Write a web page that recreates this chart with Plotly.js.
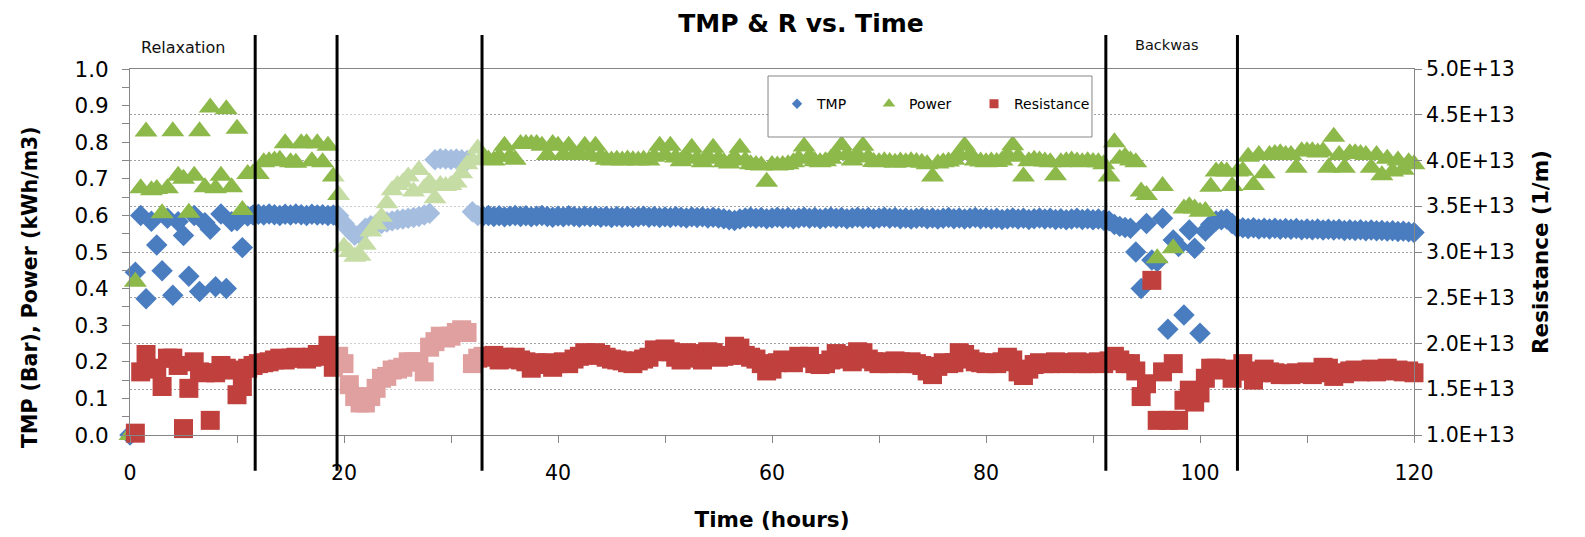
<!DOCTYPE html>
<html><head><meta charset="utf-8">
<script src="https://cdn.plot.ly/plotly-3.0.1.min.js"></script>
<style>html,body{margin:0;padding:0;background:#fff;}#chart{width:1585px;height:537px;}</style>
</head><body><div id="chart"></div>
<script>
// ---- data ----
const hours = [
0,0.5,1,1.5,2,2.5,3,3.5,4,4.5,5,5.5,6,6.5,7,7.5,8,8.5,9,9.5,
10,10.5,11,11.5,12,12.5,13,13.5,14,14.5,15,15.5,16,16.5,17,17.5,18,18.5,19,19.5,
20,20.5,21,21.5,22,22.5,23,23.5,24,24.5,25,25.5,26,26.5,27,27.5,28,28.5,29,29.5,
30,30.5,31,31.5,32,32.5,33,33.5,34,34.5,35,35.5,36,36.5,37,37.5,38,38.5,39,39.5,
40,40.5,41,41.5,42,42.5,43,43.5,44,44.5,45,45.5,46,46.5,47,47.5,48,48.5,49,49.5,
50,50.5,51,51.5,52,52.5,53,53.5,54,54.5,55,55.5,56,56.5,57,57.5,58,58.5,59,59.5,
60,60.5,61,61.5,62,62.5,63,63.5,64,64.5,65,65.5,66,66.5,67,67.5,68,68.5,69,69.5,
70,70.5,71,71.5,72,72.5,73,73.5,74,74.5,75,75.5,76,76.5,77,77.5,78,78.5,79,79.5,
80,80.5,81,81.5,82,82.5,83,83.5,84,84.5,85,85.5,86,86.5,87,87.5,88,88.5,89,89.5,
90,90.5,91,91.5,92,92.5,93,93.5,94,94.5,95,95.5,96,96.5,97,97.5,98,98.5,99,99.5,
100,100.5,101,101.5,102,102.5,103,103.5,104,104.5,105,105.5,106,106.5,107,107.5,108,108.5,109,109.5,
110,110.5,111,111.5,112,112.5,113,113.5,114,114.5,115,115.5,116,116.5,117,117.5,118,118.5,119,119.5,
120];

const tmp = [
0.000,0.445,0.600,0.372,0.584,0.519,0.449,0.592,0.382,0.583,
0.545,0.434,0.600,0.392,0.580,0.562,0.405,0.604,0.400,0.583,
0.585,0.512,0.598,0.601,0.603,0.601,0.604,0.602,0.600,0.603,
0.601,0.604,0.602,0.600,0.603,0.601,0.602,0.600,0.601,0.599,
0.578,0.560,0.546,0.548,0.565,0.572,0.576,0.578,0.582,0.585,
0.588,0.590,0.592,0.594,0.597,0.601,0.606,0.752,0.755,0.754,
0.753,0.754,0.752,0.750,0.610,0.600,0.598,
0.600,0.597,0.599,0.596,0.598,0.600,0.597,0.599,0.596,0.598,
0.600,0.597,0.595,0.598,0.596,0.599,0.597,0.595,0.598,0.596,
0.598,0.595,0.597,0.594,0.597,0.595,0.597,0.594,0.596,0.598,
0.595,0.597,0.594,0.596,0.594,0.597,0.595,0.593,0.596,0.594,
0.596,0.593,0.595,0.593,0.591,0.588,0.586,0.590,0.593,0.595,
0.592,0.594,0.591,0.593,0.595,0.592,0.594,0.591,0.593,0.595,
0.592,0.594,0.591,0.593,0.595,0.592,0.594,0.591,0.593,0.595,
0.592,0.594,0.591,0.593,0.595,0.592,0.594,0.591,0.593,0.590,
0.592,0.594,0.591,0.593,0.590,0.592,0.594,0.591,0.593,0.590,
0.592,0.594,0.591,0.593,0.590,0.592,0.589,0.591,0.593,0.590,
0.592,0.589,0.591,0.593,0.590,0.592,0.589,0.591,0.588,0.590,
0.592,0.589,0.591,0.588,0.590,0.587,0.585,
0.575,0.570,0.567,0.565,0.500,0.400,0.578,0.478,0.474,0.592,
0.289,0.533,0.515,0.328,0.560,0.510,0.278,0.557,0.575,0.585,
0.588,0.590,0.578,0.566,
0.566,0.564,0.566,0.563,0.565,0.563,0.565,0.562,0.564,0.562,
0.564,0.561,0.563,0.561,0.563,0.560,0.562,0.560,0.562,0.559,
0.561,0.559,0.561,0.558,0.560,0.558,0.559,0.557,0.558,0.556,
0.557,0.555,0.553];

const power = [
0.000,0.419,0.674,0.829,0.669,0.672,0.606,0.674,0.830,0.708,
0.700,0.607,0.708,0.830,0.677,0.895,0.674,0.708,0.890,0.677,
0.837,0.615,0.713,0.715,0.713,0.745,0.748,0.750,0.752,0.797,
0.745,0.744,0.797,0.797,0.748,0.797,0.745,0.790,0.706,0.656,
0.515,0.500,0.487,0.490,0.520,0.556,0.575,0.596,0.633,0.669,
0.683,0.690,0.706,0.665,0.724,0.674,0.690,0.647,0.683,0.680,
0.683,0.690,0.715,0.740,0.751,0.783,0.760,
0.752,0.750,0.760,0.790,0.760,0.752,0.795,0.795,0.795,0.795,
0.790,0.765,0.795,0.790,0.765,0.790,0.765,0.768,0.790,0.765,
0.790,0.760,0.752,0.750,0.752,0.750,0.753,0.751,0.750,0.752,
0.750,0.760,0.790,0.765,0.790,0.758,0.748,0.760,0.785,0.755,
0.745,0.760,0.785,0.755,0.745,0.742,0.758,0.785,0.750,0.740,
0.738,0.736,0.692,0.738,0.736,0.738,0.740,0.745,0.755,0.788,
0.760,0.748,0.745,0.748,0.755,0.765,0.792,0.765,0.750,0.765,
0.790,0.758,0.746,0.745,0.748,0.746,0.744,0.747,0.745,0.748,
0.746,0.744,0.740,0.706,0.742,0.745,0.747,0.752,0.765,0.790,
0.765,0.750,0.747,0.745,0.747,0.746,0.750,0.765,0.792,0.760,
0.706,0.748,0.752,0.750,0.747,0.745,0.710,0.745,0.748,0.750,
0.747,0.745,0.748,0.746,0.745,0.740,
0.706,
0.800,0.755,0.760,0.750,0.745,0.665,0.656,null,0.483,0.680,
null,0.510,null,0.619,0.625,0.619,0.610,0.612,0.678,0.720,
0.722,0.720,0.680,0.720,
0.722,0.760,0.683,0.765,0.715,0.765,0.768,0.770,0.765,0.765,
0.730,0.775,0.775,0.775,0.772,0.775,0.730,0.815,0.765,0.730,
0.770,0.770,0.768,0.765,0.730,0.765,0.710,0.755,0.720,0.750,
0.725,0.745,0.740];

const resistance = [
null,1.02e13,1.69e13,1.88e13,1.72e13,1.73e13,1.53e13,1.84e13,1.84e13,1.76e13,
1.07e13,1.51e13,1.80e13,1.69e13,1.68e13,1.16e13,1.68e13,1.76e13,1.73e13,1.71e13,
1.44e13,1.53e13,1.73e13,1.76e13,1.78e13,1.79e13,1.80e13,1.82e13,1.84e13,1.82e13,
1.84e13,1.85e13,1.84e13,1.83e13,1.85e13,1.88e13,1.86e13,1.98e13,1.74e13,1.86e13,
1.78e13,1.55e13,1.42e13,1.35e13,1.35e13,1.42e13,1.51e13,1.62e13,1.64e13,1.71e13,
1.72e13,1.74e13,1.80e13,1.80e13,1.80e13,1.69e13,1.96e13,2.02e13,2.08e13,2.06e13,
2.08e13,2.12e13,2.15e13,2.12e13,1.78e13,1.84e13,1.86e13,
1.85e13,1.87e13,1.82e13,1.85e13,1.83e13,1.85e13,1.82e13,1.80e13,1.73e13,1.79e13,
1.77e13,1.79e13,1.74e13,1.78e13,1.80e13,1.78e13,1.83e13,1.86e13,1.90e13,1.87e13,
1.90e13,1.88e13,1.85e13,1.83e13,1.82e13,1.81e13,1.79e13,1.78e13,1.81e13,1.83e13,
1.85e13,1.93e13,1.91e13,1.94e13,1.91e13,1.85e13,1.82e13,1.90e13,1.89e13,1.84e13,
1.82e13,1.91e13,1.90e13,1.85e13,1.86e13,1.87e13,1.97e13,1.95e13,1.87e13,1.85e13,
1.83e13,1.78e13,1.70e13,1.72e13,1.79e13,1.82e13,1.80e13,1.79e13,1.86e13,1.84e13,
1.86e13,1.78e13,1.77e13,1.78e13,1.82e13,1.89e13,1.87e13,1.83e13,1.80e13,1.91e13,
1.90e13,1.83e13,1.80e13,1.78e13,1.80e13,1.78e13,1.81e13,1.80e13,1.78e13,1.80e13,
1.78e13,1.76e13,1.70e13,1.66e13,1.75e13,1.79e13,1.78e13,1.79e13,1.90e13,1.88e13,
1.83e13,1.80e13,1.79e13,1.78e13,1.79e13,1.78e13,1.80e13,1.85e13,1.82e13,1.69e13,
1.65e13,1.72e13,1.77e13,1.79e13,1.78e13,1.78e13,1.80e13,1.79e13,1.78e13,1.79e13,
1.80e13,1.78e13,1.78e13,1.79e13,1.80e13,1.78e13,1.81e13,
1.86e13,1.82e13,1.78e13,1.78e13,1.70e13,1.42e13,1.56e13,2.69e13,1.16e13,1.69e13,
1.16e13,1.78e13,1.16e13,1.38e13,1.49e13,1.36e13,1.46e13,1.62e13,1.73e13,1.73e13,
1.71e13,1.72e13,1.62e13,1.70e13,
1.78e13,1.70e13,1.60e13,1.68e13,1.72e13,1.69e13,1.68e13,1.66e13,1.67e13,1.66e13,
1.68e13,1.67e13,1.69e13,1.66e13,1.68e13,1.74e13,1.73e13,1.64e13,1.68e13,1.67e13,
1.70e13,1.71e13,1.69e13,1.70e13,1.72e13,1.69e13,1.71e13,1.73e13,1.70e13,1.71e13,
1.69e13,1.70e13,1.68e13];

const seriesNames = ['TMP', 'Power', 'Resistance'];
const phaseLines = [11.7, 19.35, 32.9, 91.2, 103.5];   // hours
const fadedSpan = [19.35, 32.9];                        // hours
const phaseLabelText = ['Relaxation', 'Backwas'];
const phaseLabelHours = [4.95, 96.9];
const resistanceTickVals = [1.0e13,1.5e13,2.0e13,2.5e13,3.0e13,3.5e13,4.0e13,4.5e13,5.0e13];
const resistanceTickText = ['1.0E+13','1.5E+13','2.0E+13','2.5E+13','3.0E+13','3.5E+13','4.0E+13','4.5E+13','5.0E+13'];
const leftAxisTitle = 'TMP (Bar), Power (kWh/m3)';

// ---- styling ----
const BLUE = '#4A7DC0', GREEN = '#8DB94B', RED = '#C0403E', AXIS = '#868686';
const FONT = 'DejaVu Sans';

const traces = [
  {x: hours, y: tmp, type: 'scatter', mode: 'markers', name: seriesNames[0], showlegend: false, cliponaxis: false,
   marker: {symbol: 'diamond', size: 16.5, color: BLUE, line: {width: 0}}},
  {x: hours, y: power, type: 'scatter', mode: 'markers', name: seriesNames[1], showlegend: false, cliponaxis: false,
   marker: {symbol: 'triangle-up', size: 20, color: GREEN, line: {width: 0}}},
  {x: hours, y: resistance, yaxis: 'y2', type: 'scatter', mode: 'markers', name: seriesNames[2], showlegend: false, cliponaxis: false,
   marker: {symbol: 'square', size: 19, color: RED, line: {width: 0}}},
  // legend entries (small symbols, as in the reference legend)
  {x: [null], y: [null], type: 'scatter', mode: 'markers', name: seriesNames[0], legendwidth: 47,
   marker: {symbol: 'diamond', size: 8, color: BLUE, line: {width: 0}}},
  {x: [null], y: [null], type: 'scatter', mode: 'markers', name: seriesNames[1], legendwidth: 60,
   marker: {symbol: 'triangle-up', size: 11, color: GREEN, line: {width: 0}}},
  {x: [null], y: [null], type: 'scatter', mode: 'markers', name: seriesNames[2], legendwidth: 80,
   marker: {symbol: 'square', size: 9, color: RED, line: {width: 0}}}
];

const shapes = [
  // legend frame
  {type: 'rect', xref: 'paper', yref: 'paper', x0: 0.4969, x1: 0.7492, y0: 0.8142, y1: 0.9809,
   line: {color: AXIS, width: 1}, fillcolor: '#ffffff', layer: 'above'},
  // faded section
  {type: 'rect', xref: 'x', yref: 'paper', x0: fadedSpan[0], x1: fadedSpan[1], y0: 0, y1: 1,
   line: {width: 0}, fillcolor: 'rgba(255,255,255,0.5)', layer: 'above'}
].concat(phaseLines.map(h => ({
  type: 'line', xref: 'x', yref: 'paper', x0: h, x1: h, y0: -0.0975, y1: 1.093,
  line: {color: '#000000', width: 3}, layer: 'above'
})));

const annotations = phaseLabelText.map((t, i) => ({
  text: t, x: phaseLabelHours[i], xref: 'x', y: i === 0 ? 1.0574 : 1.0656, yref: 'paper',
  showarrow: false, xanchor: 'center', yanchor: 'middle',
  font: {family: FONT, size: i === 0 ? 16 : 14.5, color: '#111'}
})).concat([{
  // left axis title (placed as in the reference, slightly below the axis centre)
  text: leftAxisTitle, textangle: -90, xref: 'paper', x: -0.0779, xanchor: 'center',
  yref: 'paper', y: 0.4044, yanchor: 'middle', showarrow: false,
  font: {family: FONT, size: 20.5, weight: 'bold', color: '#000'}
}]);

const layout = {
  width: 1585, height: 537,
  margin: {l: 130, r: 171, t: 69, b: 102, pad: 0},
  paper_bgcolor: '#ffffff', plot_bgcolor: '#ffffff',
  font: {family: FONT, color: '#000'},
  title: {text: 'TMP & R vs. Time', x: 0.5226, xref: 'paper', xanchor: 'center',
          y: 1 - 23 / 537, yref: 'container', yanchor: 'middle',
          font: {family: FONT, size: 25, weight: 'bold', color: '#000'}},
  xaxis: {range: [0, 120], tick0: 0, dtick: 20, ticks: 'outside', ticklen: 7, tickwidth: 1, tickcolor: AXIS,
          showline: true, linecolor: AXIS, linewidth: 1, mirror: true, showgrid: false, zeroline: false,
          tickfont: {family: FONT, size: 20.5}, ticklabelstandoff: 12,
          minor: {dtick: 10, ticks: 'outside', ticklen: 7, tickwidth: 1, tickcolor: AXIS, showgrid: false},
          title: {text: 'Time (hours)', font: {family: FONT, size: 21.5, weight: 'bold'}, standoff: 28}},
  yaxis: {range: [0, 1], dtick: 0.1, tickformat: '.1f', ticks: 'outside', ticklen: 7, tickwidth: 1, tickcolor: AXIS,
          showline: true, linecolor: AXIS, linewidth: 1, showgrid: false, zeroline: false,
          tickfont: {family: FONT, size: 21.5}, ticklabelstandoff: 9,
          minor: {dtick: 0.05, ticks: 'outside', ticklen: 7, tickwidth: 1, tickcolor: AXIS, showgrid: false}},
  yaxis2: {overlaying: 'y', side: 'right', range: [1e13, 5e13], tickvals: resistanceTickVals, ticktext: resistanceTickText,
           ticks: 'outside', ticklen: 7, tickwidth: 1, tickcolor: AXIS, showline: true, linecolor: AXIS, linewidth: 1,
           showgrid: true, gridcolor: '#a0a0a0', gridwidth: 1, griddash: '2px,2px', zeroline: false,
           tickfont: {family: FONT, size: 20.5},
           title: {text: 'Resistance (1/m)', font: {family: FONT, size: 21.5, weight: 'bold'}, standoff: 19}},
  legend: {orientation: 'h', x: 0.5039, xanchor: 'left', y: 0.904, yanchor: 'middle',
           bgcolor: 'rgba(0,0,0,0)', borderwidth: 0, font: {family: FONT, size: 14, color: '#000'}},
  shapes: shapes,
  annotations: annotations
};

Plotly.newPlot('chart', traces, layout, {displayModeBar: false, staticPlot: true});
</script>
</body></html>
